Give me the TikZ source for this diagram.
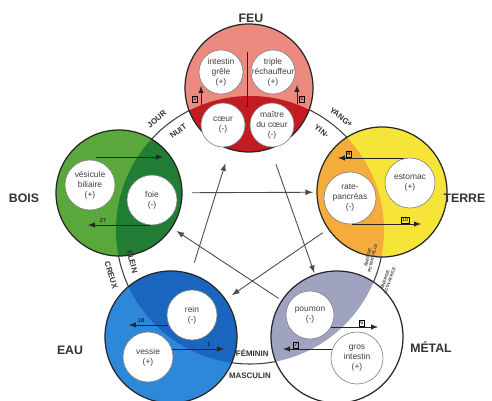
\documentclass[tikz,border=0pt]{standalone}
\usepackage{fontspec}
\setmainfont{Liberation Sans}
\usetikzlibrary{positioning, calc, arrows}

\definecolor{feuclair}{HTML}{EC8A80}
\definecolor{feufonce}{HTML}{C21C22}
\definecolor{boisclair}{HTML}{5AA83C}
\definecolor{boisfonce}{HTML}{217D34}
\definecolor{terreclair}{HTML}{F7E439}
\definecolor{terrefonce}{HTML}{F4AD3D}
\definecolor{eauclair}{HTML}{2E88DA}
\definecolor{eaufonce}{HTML}{1A66BE}
\definecolor{metalfonce}{HTML}{A0A3BF}

\tikzset{
  element/.style={circle, inner sep=0pt, outer sep=0pt, draw=none},
  organe/.style={circle, draw=black!50, line width=0.35pt, fill=white, inner sep=0pt},
  lbl/.style={align=center, inner sep=0pt, text=black!75, font=\fontsize{4.8}{5.7}\selectfont},
  nom/.style={font=\fontsize{7}{8}\selectfont\bfseries, text=black!80},
  anneau/.style={font=\fontsize{4.5}{5}\selectfont\bfseries, text=black!80, inner sep=0.5pt},
  minuscule/.style={font=\fontsize{2.4}{2.7}\selectfont\bfseries, align=center, text=black!75, inner sep=0pt},
  fleche/.style={-latex, draw=black!70, line width=0.5pt},
  meridien/.style={-latex, line width=0.35pt, draw=black!85},
  heure/.style={draw, line width=0.25pt, inner sep=0.6pt, font=\fontsize{3.2}{3.5}\selectfont},
  chiffre/.style={inner sep=0.3pt, font=\fontsize{3.2}{3.5}\selectfont},
}

\begin{document}
\begin{tikzpicture}[x=0.02cm, y=-0.02cm]
  \useasboundingbox (0,0) rectangle (492,401);
  \clip (0,0) rectangle (492,401);
  \fill[white] (0,0) rectangle (492,401);

  % grand cercle
  \coordinate (centre) at (250,230);
  \draw[black!75, line width=0.6pt] (centre) circle[radius=134];

  % les cinq elements
  \node[element, fill=feuclair, minimum size=2.56cm] (feu) at (249,88) {};
  \node[element, fill=boisclair, minimum size=2.52cm] (bois) at (119,193) {};
  \node[element, fill=terreclair, minimum size=2.6cm] (terre) at (382,192) {};
  \node[element, fill=eauclair, minimum size=2.64cm] (eau) at (171,337) {};
  \node[element, fill=white, minimum size=2.64cm] (metal) at (337,337) {};

  \begin{scope}
    \clip (centre) circle[radius=134];
    \fill[feufonce] (feu.center) circle[radius=64];
    \fill[boisfonce] (bois.center) circle[radius=63];
    \fill[terrefonce] (terre.center) circle[radius=65];
    \fill[eaufonce] (eau.center) circle[radius=66];
    \fill[metalfonce] (metal.center) circle[radius=66];
  \end{scope}

  \foreach \e/\r in {feu/64, bois/63, terre/65, eau/66, metal/66}
    \draw[black!85, line width=0.7pt] (\e.center) circle[radius=\r];

  \node[nom] (feunom) at (251,18) {FEU};
  \node[nom] (boisnom) at (24,198) {BOIS};
  \node[nom, anchor=east] (terrenom) at (491.5,198) {TERRE};
  \node[nom] (eaunom) at (70,350) {EAU};
  \node[nom] (metalnom) at (431,347) {MÉTAL};

  % textes du grand cercle
  \node[anneau, rotate=40] (jour) at ([shift={(-130:145)}]centre) {JOUR};
  \node[anneau, rotate=36] (nuit) at ([shift={(-126:122)}]centre) {NUIT};
  \node[anneau, rotate=-39] (yang) at ([shift={(-51:145)}]centre) {YANG+};
  \node[anneau, rotate=-36] (yin) at ([shift={(-54:122)}]centre) {YIN-};
  \node[anneau, rotate=288] (creux) at ([shift={(-198:146)}]centre) {CREUX};
  \node[anneau, rotate=285] (plein) at ([shift={(-195:122)}]centre) {PLEIN};
  \node[anneau, rotate=1] (feminin) at ([shift={(-271:123)}]centre) {FÉMININ};
  \node[anneau, rotate=0] (masculin) at ([shift={(-270:146)}]centre) {MASCULIN};
  \node[minuscule, rotate=77] (potentiel) at ([shift={(13:123)}]centre) {ÉNERGIE\\POTENTIELLE};
  \node[minuscule, rotate=70] (activateur) at ([shift={(20:146)}]centre) {ÉNERGIE\\ACTIVATRICE};

  % cycle
  \draw[fleche, shorten <=0.2cm, shorten >=0.08cm] (bois) -- (terre);
  \draw[fleche, shorten <=0.34cm, shorten >=0.04cm] (feu) -- (metal);
  \draw[fleche, shorten <=0.24cm, shorten >=0.3cm] (eau) -- (feu);
  \draw[fleche, shorten <=0.14cm, shorten >=0.16cm] (terre) -- (eau);
  \draw[fleche, shorten <=0.08cm, shorten >=0.12cm] (metal) -- (bois);

  % feu
  \coordinate (fmhaut) at (247,52);
  \coordinate (fmbas) at (247,107);
  \draw[line width=0.35pt, black!85] (fmhaut) -- (fmbas);
  \coordinate (f1a) at (201,105);
  \coordinate (f1b) at (201,86);
  \draw[meridien] (f1a) -- (f1b);
  \node[heure] (h1) at (195,99) {1};
  \coordinate (f2a) at (297,104);
  \coordinate (f2b) at (297,85);
  \draw[meridien] (f2a) -- (f2b);
  \node[heure] (h2) at (302,99) {5};
  \node[organe, minimum size=0.88cm, label={[lbl]center:{intestin\\grêle\\(+)}}] (intestin) at (221,72) {};
  \node[organe, minimum size=0.88cm, label={[lbl]center:{triple\\réchauffeur\\(+)}}] (triple) at (273,72) {};
  \node[organe, minimum size=0.88cm, label={[lbl]center:{cœur\\(-)}}] (coeur) at (223,125) {};
  \node[organe, minimum size=0.88cm, label={[lbl]center:{maître\\du cœur\\(-)}}] (maitre) at (272,125) {};

  % bois
  \coordinate (b1a) at (96,157);
  \coordinate (b1b) at (163,157);
  \draw[meridien] (b1a) -- (b1b);
  \coordinate (b2a) at (150,225);
  \coordinate (b2b) at (88,225);
  \draw[meridien] (b2a) -- (b2b);
  \node[chiffre] (h3) at (103,221) {27};
  \node[organe, minimum size=1cm, label={[lbl]center:{vésicule\\biliaire\\(+)}}] (vesicule) at (90,185) {};
  \node[organe, minimum size=1cm, label={[lbl]center:{foie\\(-)}}] (foie) at (152,200) {};

  % terre
  \coordinate (t1a) at (410,158);
  \coordinate (t1b) at (338,158);
  \draw[meridien] (t1a) -- (t1b);
  \node[heure] (h4) at (349,154) {4};
  \coordinate (t2a) at (352,224);
  \coordinate (t2b) at (421,224);
  \draw[meridien] (t2a) -- (t2b);
  \node[heure] (h5) at (405,220) {10};
  \node[organe, minimum size=1.04cm, label={[lbl]center:{rate-\\pancréas\\(-)}}] (rate) at (350,198) {};
  \node[organe, minimum size=1cm, label={[lbl]center:{estomac\\(+)}}] (estomac) at (410,183) {};

  % eau
  \coordinate (e1a) at (168,325);
  \coordinate (e1b) at (129,325);
  \draw[meridien] (e1a) -- (e1b);
  \node[chiffre] (h6) at (141,321) {18};
  \coordinate (e2a) at (172,349);
  \coordinate (e2b) at (224,349);
  \draw[meridien] (e2a) -- (e2b);
  \node[chiffre] (h7) at (209,345) {1};
  \node[organe, minimum size=1cm, label={[lbl]center:{rein\\(-)}}] (rein) at (192,315) {};
  \node[organe, minimum size=1cm, label={[lbl]center:{vessie\\(+)}}] (vessie) at (148,357) {};

  % metal
  \coordinate (m1a) at (331,327);
  \coordinate (m1b) at (378,327);
  \draw[meridien] (m1a) -- (m1b);
  \node[heure] (h8) at (362,323) {6};
  \coordinate (m2a) at (334,349);
  \coordinate (m2b) at (283,349);
  \draw[meridien] (m2a) -- (m2b);
  \node[heure] (h9) at (296,345) {7};
  \node[organe, minimum size=0.96cm, label={[lbl]center:{poumon\\(-)}}] (poumon) at (310,315) {};
  \node[organe, minimum size=1.04cm, label={[lbl]center:{gros\\intestin\\(+)}}] (gros) at (357,358) {};
\end{tikzpicture}
\end{document}
